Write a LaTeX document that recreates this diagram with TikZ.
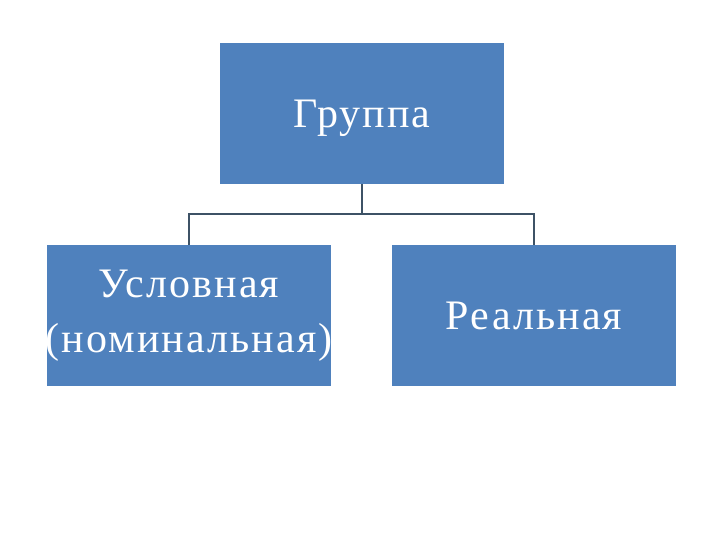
\documentclass[tikz,border=0pt]{standalone}
\usepackage{fontspec}
\setmainfont{Liberation Serif}
\newfontfamily\boxfont[LetterSpace=5]{Liberation Serif}
\definecolor{boxblue}{HTML}{4F81BD}
\definecolor{linecol}{HTML}{3D5266}
\begin{document}
\begin{tikzpicture}[x=1pt,y=-1pt,
  box/.style={fill=boxblue,draw=none,minimum width=284pt,minimum height=141pt,inner sep=0pt,text=white,font=\boxfont\fontsize{42}{55}\selectfont,align=center},
  conn/.style={draw=linecol,line width=1.6pt}]
\useasboundingbox (0,0) rectangle (720,540);
\node[box,text height=38pt,text depth=9pt] (top) at (362,113.5) {Группа};
\node[box] (left) at (189,315.5) {\makebox[0pt]{Условная}\\\makebox[0pt]{(номинальная)}};
\node[box] (right) at (534,315.5) {Реальная};
\coordinate (mid) at (362,214);
\draw[conn] (top.south) -- (mid);
\draw[conn] (left.north) |- (mid) -| (right.north);
\end{tikzpicture}
\end{document}
